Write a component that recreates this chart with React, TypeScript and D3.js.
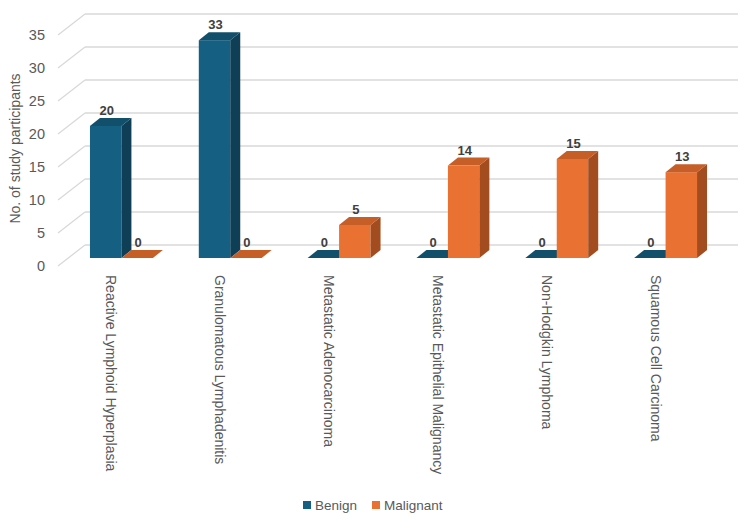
import React, { useRef, useEffect } from "react";
import * as d3 from "d3";

const categories = [
  "Reactive Lymphoid Hyperplasia",
  "Granulomatous Lymphadenitis",
  "Metastatic Adenocarcinoma",
  "Metastatic Epithelial Malignancy",
  "Non-Hodgkin Lymphoma",
  "Squamous Cell Carcinoma",
];
const seriesNames = ["Benign", "Malignant"];
const benign = [20, 33, 0, 0, 0, 0];
const malignant = [0, 0, 5, 14, 15, 13];
const yTicks = [0, 5, 10, 15, 20, 25, 30, 35];

const colors = {
  Benign: { front: "#156082", side: "#0E3F56", top: "#124F6B" },
  Malignant: { front: "#E97132", side: "#A24C1F", top: "#C55E27" },
};

const FONT = "'Liberation Sans', Arial, sans-serif";

const App = () => {
  const svgRef = useRef<SVGSVGElement>(null);

  useEffect(() => {
    const width = 750;
    const height = 519;
    const svg = d3.select(svgRef.current);
    svg.selectAll("*").remove(); // clear previous render
    svg.attr("width", width).attr("height", height);

    // depth of the walls (front plane -> back wall)
    const depthX = 27;
    const depthY = -21;
    // bars sit a bit behind the front plane, and have their own depth
    const barShiftX = 9;
    const barShiftY = -8;
    const barDX = 10;
    const barDY = -8;

    const x = d3.scaleBand<string>().domain(categories).range([58, 711]);
    const xInner = d3
      .scaleBand<string>()
      .domain(seriesNames)
      .range([0, x.bandwidth()])
      .paddingInner(0)
      .paddingOuter(0.73);
    const y = d3.scaleLinear().domain([0, 35]).range([266, 35]);

    const grid = svg.append("g");
    // back wall gridlines
    grid
      .selectAll("line.back")
      .data(yTicks)
      .enter()
      .append("line")
      .attr("x1", 58 + depthX)
      .attr("x2", 711 + depthX)
      .attr("y1", (d) => y(d) + depthY)
      .attr("y2", (d) => y(d) + depthY)
      .attr("stroke", "#D9D9D9")
      .attr("stroke-width", 1.3);
    // side wall gridlines
    grid
      .selectAll("line.side")
      .data(yTicks)
      .enter()
      .append("line")
      .attr("x1", 58)
      .attr("x2", 58 + depthX)
      .attr("y1", (d) => y(d))
      .attr("y2", (d) => y(d) + depthY)
      .attr("stroke", "#D9D9D9")
      .attr("stroke-width", 1.3);

    // y tick labels
    svg
      .append("g")
      .selectAll("text")
      .data(yTicks)
      .enter()
      .append("text")
      .attr("x", 45)
      .attr("y", (d) => y(d))
      .attr("dy", "0.36em")
      .attr("text-anchor", "end")
      .attr("font-family", FONT)
      .attr("font-size", 14.5)
      .attr("fill", "#595959")
      .text((d) => d);

    // y axis title
    svg
      .append("text")
      .attr("transform", `translate(15, ${(y(0) + y(35)) / 2 - 2}) rotate(-90)`)
      .attr("text-anchor", "middle")
      .attr("dy", "0.36em")
      .attr("font-family", FONT)
      .attr("font-size", 14)
      .attr("fill", "#595959")
      .text("No. of study participants");

    // bars data
    const bars = categories.flatMap((c, i) =>
      seriesNames.map((s) => ({
        category: c,
        series: s,
        value: s === "Benign" ? benign[i] : malignant[i],
      }))
    );

    const barW = xInner.bandwidth();
    const bx = (d) => (x(d.category) as number) + (xInner(d.series) as number) + barShiftX;
    const by = (v: number) => y(v) + barShiftY;

    const barG = svg
      .append("g")
      .selectAll("g")
      .data(bars)
      .enter()
      .append("g");

    // front face
    barG
      .filter((d) => d.value > 0)
      .append("rect")
      .attr("x", (d) => bx(d))
      .attr("y", (d) => by(d.value))
      .attr("width", barW)
      .attr("height", (d) => by(0) - by(d.value))
      .attr("fill", (d) => colors[d.series].front);

    // side face
    barG
      .filter((d) => d.value > 0)
      .append("path")
      .attr("d", (d) => {
        const x0 = bx(d) + barW;
        const yt = by(d.value);
        const yb = by(0);
        return `M${x0},${yt}L${x0 + barDX},${yt + barDY}L${x0 + barDX},${yb + barDY}L${x0},${yb}Z`;
      })
      .attr("fill", (d) => colors[d.series].side);

    // top face
    barG
      .append("path")
      .attr("d", (d) => {
        const x0 = bx(d);
        const yt = by(d.value);
        return `M${x0},${yt}L${x0 + barDX},${yt + barDY}L${x0 + barW + barDX},${yt + barDY}L${x0 + barW},${yt}Z`;
      })
      .attr("fill", (d) => colors[d.series].top);

    // data labels
    svg
      .append("g")
      .selectAll("text")
      .data(bars)
      .enter()
      .append("text")
      .attr("x", (d) => bx(d) + barW / 2 + 1)
      .attr("y", (d) => by(d.value) + barDY - 3)
      .attr("text-anchor", "middle")
      .attr("font-family", FONT)
      .attr("font-size", 13)
      .attr("font-weight", "bold")
      .attr("fill", "#404040")
      .text((d) => d.value);

    // category labels (rotated)
    svg
      .append("g")
      .selectAll("text")
      .data(categories)
      .enter()
      .append("text")
      .attr(
        "transform",
        (d) => `translate(${(x(d) as number) + x.bandwidth() / 2 - 1}, 275) rotate(90)`
      )
      .attr("dy", "0.36em")
      .attr("text-anchor", "start")
      .attr("font-family", FONT)
      .attr("font-size", 14)
      .attr("fill", "#595959")
      .text((d) => d);

    // legend
    const legendX = [303, 372];
    const legend = svg
      .append("g")
      .selectAll("g")
      .data(seriesNames)
      .enter()
      .append("g")
      .attr("transform", (d, i) => `translate(${legendX[i]}, 505)`);
    legend
      .append("rect")
      .attr("x", 0)
      .attr("y", -4)
      .attr("width", 8)
      .attr("height", 8)
      .attr("fill", (d) => colors[d].front);
    legend
      .append("text")
      .attr("x", 12)
      .attr("dy", "0.36em")
      .attr("font-family", FONT)
      .attr("font-size", 13.5)
      .attr("fill", "#595959")
      .text((d) => d);
  }, []);

  return (
    <div style={{ position: "absolute", left: 0, top: 0 }}>
      <svg ref={svgRef} style={{ display: "block" }}></svg>
    </div>
  );
};

export default App;
